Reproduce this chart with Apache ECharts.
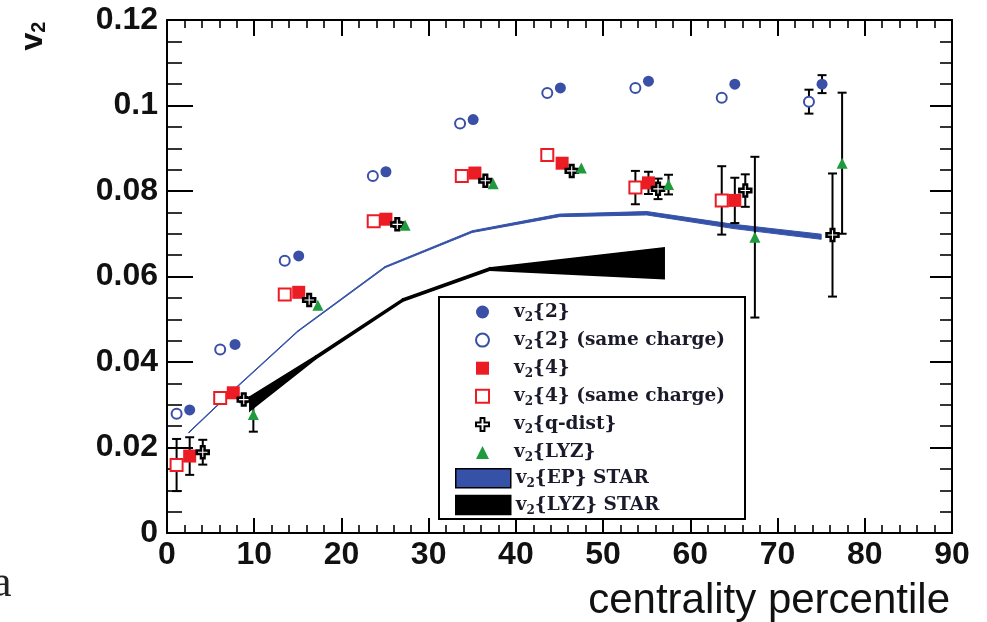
<!DOCTYPE html>
<html>
<head>
<meta charset="utf-8">
<script src="https://cdn.jsdelivr.net/npm/echarts@6/dist/echarts.min.js"></script>
<style>
html, body { margin: 0; padding: 0; background: #fff; }
#chart { width: 987px; height: 622px; }
</style>
</head>
<body>
<div id="chart"></div>
<script>
// v2{2}
var v22X = [2.6, 7.8, 15.1, 25.1, 35.1, 45.1, 55.2, 65.1, 75.1];
var v22Y = [0.0288, 0.0441, 0.0648, 0.0845, 0.0967, 0.1041, 0.1057, 0.1050, 0.1050];
var v22Err = [0, 0, 0, 0, 0, 0, 0, 0, 0.0021];
// v2{2} same charge
var v22scX = [1.1, 6.1, 13.5, 23.6, 33.6, 43.6, 53.7, 63.6, 73.6];
var v22scY = [0.0279, 0.0429, 0.0637, 0.0835, 0.0958, 0.1029, 0.1041, 0.1018, 0.1009];
var v22scErr = [0, 0, 0, 0, 0, 0, 0, 0, 0.0028];
// v2{4}
var v24X = [2.6, 7.6, 15.1, 25.1, 35.3, 45.3, 55.2, 65.1];
var v24Y = [0.0180, 0.0328, 0.0563, 0.0734, 0.0842, 0.0865, 0.0819, 0.0778];
var v24Err = [0.0044, 0.0007, 0, 0, 0, 0.0006, 0.0026, 0.0053];
// v2{4} same charge
var v24scX = [1.1, 6.1, 13.5, 23.7, 33.8, 43.6, 53.7, 63.6];
var v24scY = [0.0159, 0.0316, 0.0558, 0.0729, 0.0835, 0.0884, 0.0808, 0.0778];
var v24scErr = [0.0061, 0.0007, 0, 0, 0, 0.0004, 0.0039, 0.0080];
// v2{q-dist}
var qX = [4.1, 8.8, 16.3, 26.4, 36.5, 46.4, 56.3, 66.3, 76.3];
var qY = [0.0189, 0.0312, 0.0545, 0.0722, 0.0824, 0.0847, 0.0805, 0.0801, 0.0697];
var qErr = [0.0029, 0.0006, 0, 0.0006, 0, 0.0005, 0.0024, 0.0038, 0.0144];
// v2{LYZ}
var lyzX = [9.9, 17.3, 27.3, 37.4, 47.5, 57.5, 67.4, 77.4];
var lyzY = [0.0277, 0.0533, 0.0720, 0.0817, 0.0854, 0.0815, 0.0692, 0.0865];
var lyzErr = [0.0040, 0, 0, 0, 0, 0.0023, 0.0188, 0.0165];
// v2{EP} STAR band (centre and half width)
var epX = [2.5, 7.5, 15, 25, 35, 45, 55, 65, 75];
var epMid = [0.0235, 0.0332, 0.0472, 0.0622, 0.0705, 0.0743, 0.0748, 0.0717, 0.0693];
var epHalf = [0.0001, 0.0001, 0.0001, 0.00015, 0.0002, 0.0003, 0.0004, 0.0005, 0.0006];
// v2{LYZ} STAR band (low and high edge)
var starX = [9.5, 17, 27, 37, 57];
var starLo = [0.0286, 0.0407, 0.0542, 0.0615, 0.0595];
var starHi = [0.0318, 0.0413, 0.0547, 0.0620, 0.0667];

var blue = '#3a4fa6', red = '#ec1c24', green = '#1f9a3e';
var crossPath = 'path://M3.5,0H6.5V3.5H10V6.5H6.5V10H3.5V6.5H0V3.5H3.5Z';

function pts(xs, ys) {
    return xs.map(function (x, i) { return [x, ys[i]]; });
}

function errorSeries(xs, ys, es) {
    var d = [];
    xs.forEach(function (x, i) {
        if (es[i] > 0) d.push([x, ys[i] - es[i], ys[i] + es[i]]);
    });
    return {
        type: 'custom', data: d, z: 3, silent: true,
        encode: { x: 0, y: [1, 2] },
        renderItem: function (params, api) {
            var lo = api.coord([api.value(0), api.value(1)]);
            var hi = api.coord([api.value(0), api.value(2)]);
            var cap = 4.5;
            var st = { stroke: '#000', lineWidth: 2 };
            return {
                type: 'group', children: [
                    { type: 'line', shape: { x1: lo[0], y1: lo[1], x2: hi[0], y2: hi[1] }, style: st },
                    { type: 'line', shape: { x1: lo[0] - cap, y1: lo[1], x2: lo[0] + cap, y2: lo[1] }, style: st },
                    { type: 'line', shape: { x1: hi[0] - cap, y1: hi[1], x2: hi[0] + cap, y2: hi[1] }, style: st }
                ]
            };
        }
    };
}

function bandSeries(name, xs, lo, hi, color, lw) {
    return {
        type: 'custom', name: name, z: 2, silent: true,
        data: xs.map(function (x, i) { return [x, lo[i], hi[i]]; }),
        encode: { x: 0, y: [1, 2] },
        itemStyle: { color: color },
        renderItem: function (params, api) {
            var i = params.dataIndex;
            if (i >= xs.length - 1) return { type: 'group', children: [] };
            var a = api.coord([xs[i], lo[i]]);
            var b = api.coord([xs[i + 1], lo[i + 1]]);
            var c = api.coord([xs[i + 1], hi[i + 1]]);
            var d = api.coord([xs[i], hi[i]]);
            return {
                type: 'polygon',
                shape: { points: [a, b, c, d] },
                style: { fill: color, stroke: color, lineWidth: lw }
            };
        }
    };
}

function markerSeries(name, xs, ys, symbol, size, style) {
    style.opacity = 1;
    return {
        type: 'scatter', name: name, data: pts(xs, ys), z: 5,
        symbol: symbol, symbolSize: size, itemStyle: style
    };
}

var tickFont = { fontFamily: 'Liberation Sans', fontWeight: 'bold', fontSize: 32, color: '#111' };
var legendText = {
    fontFamily: 'DejaVu Serif', fontWeight: 'bold', fontSize: 18.5, color: '#1a1a2a', lineHeight: 20,
    rich: { s: { fontFamily: 'DejaVu Serif', fontWeight: 'bold', fontSize: 12, padding: [11, 0, 0, 0], color: '#1a1a2a' } }
};
function legendFmt(name) { return name.replace(/^v2/, 'v{s|2}'); }

function axisX(pos, major, minor, labels) {
    return {
        type: 'value', min: 0, max: 90, interval: 10, position: pos,
        axisLine: { show: true, onZero: false, lineStyle: { color: '#000', width: 2 } },
        axisTick: { show: true, inside: true, length: major, lineStyle: { color: '#000', width: 2 } },
        minorTick: { show: true, splitNumber: 5, length: minor, lineStyle: { color: '#000', width: 1.6 } },
        splitLine: { show: false },
        axisLabel: labels ? Object.assign({ margin: 6 }, tickFont) : { show: false }
    };
}
function axisY(pos, major, minor, labels) {
    return {
        type: 'value', min: 0, max: 0.12, interval: 0.02, position: pos,
        axisLine: { show: true, onZero: false, lineStyle: { color: '#000', width: 2 } },
        axisTick: { show: true, inside: true, length: major, lineStyle: { color: '#000', width: 2 } },
        minorTick: { show: true, splitNumber: 4, length: minor, lineStyle: { color: '#000', width: 1.6 } },
        splitLine: { show: false },
        axisLabel: labels ? Object.assign({ margin: 9 }, tickFont) : { show: false }
    };
}

var chart = echarts.init(document.getElementById('chart'));
var xa = axisX('bottom', 15, 8, true);
xa.name = 'centrality percentile';
xa.nameLocation = 'end';
xa.nameGap = -2;
xa.nameTextStyle = { fontFamily: 'Liberation Sans', fontSize: 42, color: '#111', align: 'right', verticalAlign: 'top', padding: [47, 0, 0, 0] };

chart.setOption({
    animation: false,
    grid: { left: 167, top: 20, right: 35, bottom: 82 },
    xAxis: [xa, axisX('top', 16, 8, false)],
    yAxis: [axisY('left', 26, 15, true), axisY('right', 22, 12, false)],
    legend: [{
        data: ['v2{2}', 'v2{2} (same charge)', 'v2{4}', 'v2{4} (same charge)', 'v2{q-dist}', 'v2{LYZ}'],
        orient: 'vertical', left: 470, top: 297, itemWidth: 13, itemHeight: 13, itemGap: 6.6,
        selectedMode: false, z: 10,
        textStyle: Object.assign({ padding: [0, 0, 0, 20] }, legendText),
        formatter: legendFmt
    }, {
        data: [{ name: 'v2{EP} STAR', icon: 'rect' }, { name: 'v2{LYZ} STAR', icon: 'rect' }],
        orient: 'vertical', left: 450, top: 463, itemWidth: 55, itemHeight: 19, itemGap: 5,
        selectedMode: false, z: 10,
        itemStyle: { borderColor: '#000', borderWidth: 1.5 },
        textStyle: Object.assign({ padding: [0, 0, 0, 0] }, legendText),
        formatter: legendFmt
    }],
    graphic: [
        { type: 'rect', left: 438, top: 296, z: 8, shape: { width: 306, height: 222 }, style: { fill: '#fff', stroke: '#000', lineWidth: 2 } },
        {
            type: 'text', x: 33, y: 36, rotation: Math.PI / 2, z: 10,
            style: {
                text: '{v|v}{s|2}', align: 'center', verticalAlign: 'middle',
                rich: {
                    v: { fontFamily: 'Liberation Sans', fontWeight: 'bold', fontSize: 32, fill: '#111' },
                    s: { fontFamily: 'Liberation Sans', fontWeight: 'bold', fontSize: 20, fill: '#111', padding: [12, 0, 0, 0] }
                }
            }
        },
        { type: 'text', x: -8, y: 562, z: 10, style: { text: 'a', fontFamily: 'Liberation Serif', fontSize: 44, fill: '#222' } }
    ],
    series: [
        bandSeries('v2{EP} STAR', epX, epMid.map(function (m, i) { return m - epHalf[i]; }),
            epMid.map(function (m, i) { return m + epHalf[i]; }), '#3552a8', 1),
        bandSeries('v2{LYZ} STAR', starX, starLo, starHi, '#000', 1.6),
        errorSeries(v22X, v22Y, v22Err),
        errorSeries(v22scX, v22scY, v22scErr),
        errorSeries(v24X, v24Y, v24Err),
        errorSeries(v24scX, v24scY, v24scErr),
        errorSeries(qX, qY, qErr),
        errorSeries(lyzX, lyzY, lyzErr),
        markerSeries('v2{2}', v22X, v22Y, 'circle', 11, { color: blue }),
        markerSeries('v2{2} (same charge)', v22scX, v22scY, 'circle', 10, { color: '#fff', borderColor: blue, borderWidth: 2 }),
        markerSeries('v2{4}', v24X, v24Y, 'rect', 13, { color: red }),
        markerSeries('v2{4} (same charge)', v24scX, v24scY, 'rect', 12, { color: '#fff', borderColor: red, borderWidth: 2 }),
        markerSeries('v2{q-dist}', qX, qY, crossPath, 12, { color: '#fff', borderColor: '#000', borderWidth: 2.5 }),
        markerSeries('v2{LYZ}', lyzX, lyzY, 'triangle', 11, { color: green })
    ]
});
</script>
</body>
</html>
